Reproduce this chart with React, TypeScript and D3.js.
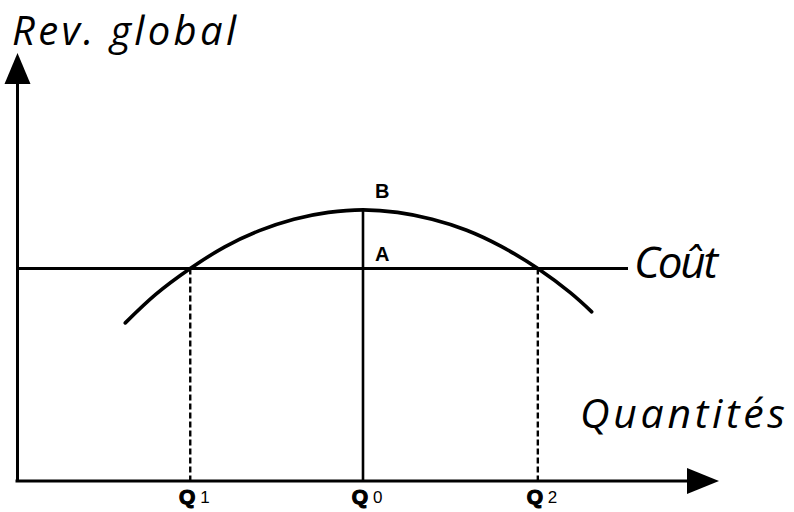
import React from "react";
import * as d3 from "d3";

// Data (quantity on x, revenue on y, both in arbitrary units 0..100)
const curveQ = [15.6, 20, 25, 30, 35, 40, 45, 50, 55, 60, 65, 70, 75.3, 80, 83.1];
const curveRev = [37.2, 43.9, 50, 55.1, 58.9, 61.6, 63.2, 63.8, 63.2, 61.6, 59.0, 55.2, 50, 44.3, 39.8];
const costLevel = [50];
const qMarks = ["Q1", "Q0", "Q2"];
const qDigits = ["1", "0", "2"];
const qValues = [25, 50, 75.3];
const peakLabels = ["B", "A"];
const axisLabels = ["Rev. global", "Quantités", "Coût"];

const W = 794;
const H = 512;

export default function App() {
  const x = d3.scaleLinear().domain([0, 100]).range([17.5, 708.5]);
  const y = d3.scaleLinear().domain([0, 100]).range([481, 56]);

  const pts: [number, number][] = curveQ.map((q, i) => [x(q), y(curveRev[i])]);
  const line = d3.line<[number, number]>().curve(d3.curveNatural)(pts) || "";

  const x0 = x(0);
  const y0 = y(0);
  const cost = costLevel[0];
  const peak = d3.max(curveRev) as number;
  const handFont = "'Open Sans', 'DejaVu Sans', sans-serif";
  const narrow = "'Liberation Sans Narrow', 'Liberation Sans', sans-serif";
  const stroke = "#000";

  return (
    <svg
      width={W}
      height={H}
      viewBox={`0 0 ${W} ${H}`}
      style={{ position: "absolute", left: 0, top: 0, background: "#fff" }}
    >
      <rect x={0} y={0} width={W} height={H} fill="#fff" />
      {/* y axis */}
      <line x1={x0} y1={y0 + 1} x2={x0} y2={80} stroke={stroke} strokeWidth={3} />
      <path d={`M${x0},53 L${x0 - 13},84 L${x0 + 13},84 Z`} fill={stroke} />
      {/* x axis */}
      <line x1={x0 - 2} y1={y0} x2={690} y2={y0} stroke={stroke} strokeWidth={3} />
      <path d={`M719,${y0} L687,${y0 - 13} L687,${y0 + 13} Z`} fill={stroke} />

      {/* cost line */}
      <line x1={x0} y1={y(cost)} x2={628} y2={y(cost)} stroke={stroke} strokeWidth={3} />

      {/* dashed verticals */}
      {[qValues[0], qValues[2]].map((q, i) => (
        <line
          key={i}
          x1={x(q)}
          y1={y(cost)}
          x2={x(q)}
          y2={y0}
          stroke={stroke}
          strokeWidth={2.4}
          strokeDasharray="6 3"
        />
      ))}
      {/* Q0 solid vertical */}
      <line x1={x(qValues[1])} y1={y(peak)} x2={x(qValues[1])} y2={y0} stroke={stroke} strokeWidth={2.6} />

      {/* revenue curve */}
      <path d={line} fill="none" stroke={stroke} strokeWidth={3.6} strokeLinecap="round" />

      {/* B and A */}
      <text x={x(qValues[1]) + 12} y={198} fontFamily={narrow} fontWeight="bold" fontSize={20}>
        {peakLabels[0]}
      </text>
      <text x={x(qValues[1]) + 12} y={261} fontFamily={narrow} fontWeight="bold" fontSize={20}>
        {peakLabels[1]}
      </text>

      {/* Q labels */}
      {qValues.map((q, i) => (
        <g key={qMarks[i]}>
          <text x={x(q) - 3} y={504} textAnchor="middle" fontFamily="'Liberation Sans', Arial, sans-serif" fontWeight="900" fontSize={21} stroke="#000" strokeWidth={1.2}>
            Q
          </text>
          <text x={x(q) + 10} y={503} fontFamily={narrow} fontSize={17}>
            {qDigits[i]}
          </text>
        </g>
      ))}

      {/* axis labels */}
      <text x={12} y={45} fontFamily={handFont} fontStyle="italic" fontWeight={400} fontSize={40} textLength={224} lengthAdjust="spacing">
        {axisLabels[0]}
      </text>
      <text x={580} y={428} fontFamily={handFont} fontStyle="italic" fontWeight={400} fontSize={41} textLength={205} lengthAdjust="spacing">
        {axisLabels[1]}
      </text>
      <text x={634} y={278} fontFamily={handFont} fontStyle="italic" fontWeight={400} fontSize={44} textLength={84} lengthAdjust="spacing">
        {axisLabels[2]}
      </text>
    </svg>
  );
}
